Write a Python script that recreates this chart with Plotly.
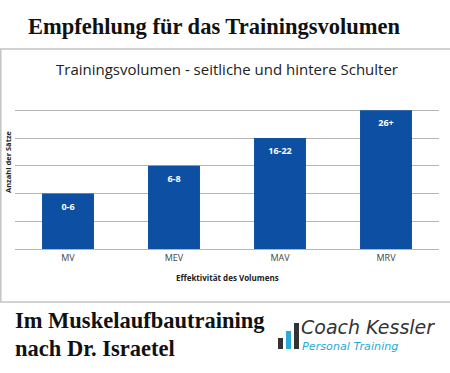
import plotly.graph_objects as go

categories = ["MV", "MEV", "MAV", "MRV"]
values = [2, 3, 4, 5]
bar_labels = ["0-6", "6-8", "16-22", "26+"]
label_offset = 0.5

W, H = 450, 373

def py(p):
    return 1 - p / H

def px(p):
    return p / W

fig = go.Figure(go.Bar(
    x=categories, y=values,
    marker=dict(color="#0d4fa3", line=dict(width=0)),
    width=0.49,
))
fig.add_trace(go.Scatter(
    x=categories, y=[v - label_offset for v in values], text=bar_labels,
    mode="text", textposition="middle center",
    textfont=dict(family="Open Sans", size=9, color="white", weight="bold"),
    hoverinfo="skip",
))

fig.update_layout(
    width=W, height=H, margin=dict(l=0, r=0, t=0, b=0),
    paper_bgcolor="white", plot_bgcolor="white", showlegend=False,
    xaxis=dict(domain=[px(15), px(439)], showgrid=False, showline=True,
               linecolor="#b5b5b5", linewidth=1, ticks="",
               tickfont=dict(family="Open Sans", size=9, color="#444")),
    yaxis=dict(domain=[py(249), py(81.7)], range=[0, 6.03], dtick=1,
               showgrid=True, gridcolor="#b5b5b5", gridwidth=1,
               showticklabels=False, zeroline=False),
)

fig.add_shape(type="rect", xref="paper", yref="paper",
              x0=px(0.8), x1=px(452), y0=py(302), y1=py(49),
              line=dict(color="#c4c4c4", width=1.5), layer="below")

ann = [
    dict(text="<b>Empfehlung für das Trainingsvolumen</b>", x=px(214), y=py(26),
         font=dict(family="Liberation Serif", size=22.5, color="#111")),
    dict(text="Trainingsvolumen - seitliche und hintere Schulter", x=px(227), y=py(69),
         font=dict(family="Open Sans", size=15, color="#222")),
    dict(text="<b>Effektivität des Volumens</b>", x=px(227), y=py(277),
         font=dict(family="Open Sans", size=8, color="#222")),
    dict(text="<b>Anzahl der Sätze</b>", x=px(8), y=py(162), textangle=-90,
         font=dict(family="Open Sans", size=7.5, color="#222")),
    dict(text="<b>Im Muskelaufbautraining</b>", x=px(14), y=py(320), xanchor="left",
         font=dict(family="Liberation Serif", size=22.5, color="#111")),
    dict(text="<b>nach Dr. Israetel</b>", x=px(14), y=py(348), xanchor="left",
         font=dict(family="Liberation Serif", size=22.5, color="#111")),
    dict(text="<i>Coach Kessler</i>", x=px(300), y=py(339), xanchor="left",
         yanchor="bottom", font=dict(family="DejaVu Sans", size=19, color="#333")),
    dict(text="<i>Personal Training</i>", x=px(301), y=py(339), xanchor="left",
         yanchor="top", font=dict(family="DejaVu Sans", size=11.2, color="#2aaad8")),
]
for a in ann:
    a.setdefault("xanchor", "center")
    a.setdefault("yanchor", "middle")
    fig.add_annotation(xref="paper", yref="paper", showarrow=False,
                       borderpad=0, **a)

# logo bars (decoration)
for x0, x1, top, col in [(278, 283, 338, "#333"), (286, 291, 331, "#2aaad8"), (294, 299, 323, "#333")]:
    fig.add_shape(type="rect", xref="paper", yref="paper",
                  x0=px(x0), x1=px(x1), y0=py(349), y1=py(top),
                  fillcolor=col, line=dict(width=0))

fig.write_html("out.html", config={"displayModeBar": False},
               post_script="document.body.style.margin='0';document.body.style.overflow='hidden';")
